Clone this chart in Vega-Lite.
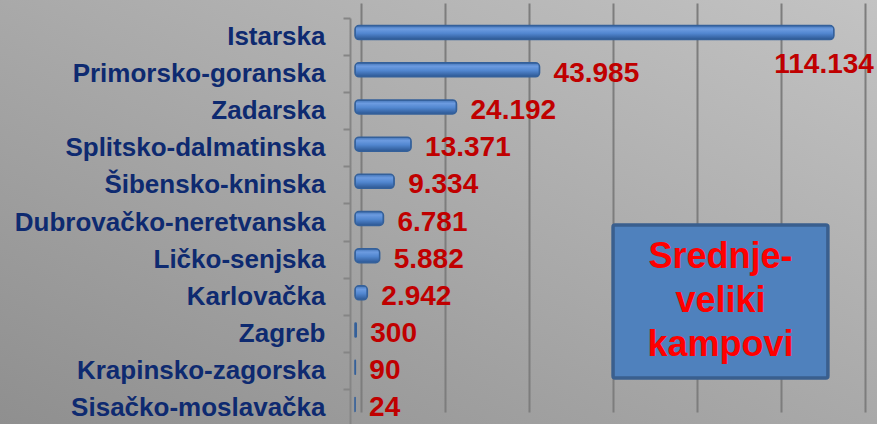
{
  "$schema": "https://vega.github.io/schema/vega-lite/v6.json",
  "width": 877,
  "height": 424,
  "autosize": "none",
  "padding": 0,
  "background": "#a6a6a6",
  "view": {
    "stroke": null,
    "fill": {
      "gradient": "linear",
      "x1": 0, "y1": 1, "x2": 1, "y2": 0,
      "stops": [
        {"offset": 0, "color": "#8f8f8f"},
        {"offset": 1, "color": "#c3c3c3"}
      ]
    }
  },
  "config": {
    "locale": {"number": {"decimal": ",", "thousands": ".", "grouping": [3], "currency": ["", " kn"]}},
    "font": "Liberation Sans"
  },
  "data": {
    "values": [
      {"zupanija": "Istarska", "kampovi": 114134},
      {"zupanija": "Primorsko-goranska", "kampovi": 43985},
      {"zupanija": "Zadarska", "kampovi": 24192},
      {"zupanija": "Splitsko-dalmatinska", "kampovi": 13371},
      {"zupanija": "Šibensko-kninska", "kampovi": 9334},
      {"zupanija": "Dubrovačko-neretvanska", "kampovi": 6781},
      {"zupanija": "Ličko-senjska", "kampovi": 5882},
      {"zupanija": "Karlovačka", "kampovi": 2942},
      {"zupanija": "Zagreb", "kampovi": 300},
      {"zupanija": "Krapinsko-zagorska", "kampovi": 90},
      {"zupanija": "Sisačko-moslavačka", "kampovi": 24}
    ]
  },
  "layer": [
    {
      "mark": {
        "type": "bar",
        "size": 14,
        "yOffset": -4,
        "cornerRadius": 4,
        "stroke": "#34609a",
        "strokeWidth": 1.5,
        "fill": {
          "gradient": "linear",
          "x1": 0, "y1": 0, "x2": 0, "y2": 1,
          "stops": [
            {"offset": 0, "color": "#4273b5"},
            {"offset": 0.25, "color": "#6c9be0"},
            {"offset": 0.55, "color": "#5287d0"},
            {"offset": 1, "color": "#2c5793"}
          ]
        }
      },
      "encoding": {
        "x": {
          "field": "kampovi",
          "type": "quantitative",
          "scale": {"domain": [-84600, 124400], "nice": false, "zero": false},
          "axis": {
            "orient": "bottom",
            "values": [0, 20000, 40000, 60000, 80000, 100000, 120000],
            "grid": true,
            "gridColor": "#7d7d7d",
            "gridWidth": 2,
            "labels": false,
            "ticks": false,
            "domain": false,
            "title": null,
            "translate": 6.5
          }
        },
        "y": {
          "field": "zupanija",
          "type": "nominal",
          "sort": null,
          "scale": {
            "domain": ["Istarska", "Primorsko-goranska", "Zadarska", "Splitsko-dalmatinska", "Šibensko-kninska", "Dubrovačko-neretvanska", "Ličko-senjska", "Karlovačka", "Zagreb", "Krapinsko-zagorska", "Sisačko-moslavačka"],
            "range": [18, 427],
            "paddingInner": 0,
            "paddingOuter": 0
          },
          "axis": {
            "title": null,
            "orient": "left",
            "offset": -350,
            "grid": false,
            "labelFont": "Liberation Sans",
            "labelFontSize": 26,
            "labelFontWeight": "bold",
            "labelColor": "#0e2a70",
            "labelPadding": 18,
            "labelLimit": 400,
            "tickSize": 7,
            "tickWidth": 2,
            "tickColor": "#858585",
            "bandPosition": 0,
            "domainColor": "#858585",
            "domainWidth": 2
          }
        }
      }
    },
    {
      "transform": [{"filter": "datum.zupanija != 'Istarska'"}],
      "mark": {
        "type": "text",
        "align": "left",
        "baseline": "middle",
        "dx": 14,
        "font": "Liberation Sans",
        "fontSize": 28,
        "fontWeight": "bold",
        "fill": "#c00000"
      },
      "encoding": {
        "x": {"field": "kampovi", "type": "quantitative"},
        "y": {"field": "zupanija", "type": "nominal", "sort": null},
        "text": {"field": "kampovi", "type": "quantitative", "format": ",d"}
      }
    },
    {
      "transform": [{"filter": "datum.zupanija == 'Istarska'"}],
      "mark": {
        "type": "text",
        "align": "right",
        "baseline": "middle",
        "dx": 40,
        "dy": 28,
        "font": "Liberation Sans",
        "fontSize": 28,
        "fontWeight": "bold",
        "fill": "#c00000"
      },
      "encoding": {
        "x": {"field": "kampovi", "type": "quantitative"},
        "y": {"field": "zupanija", "type": "nominal", "sort": null},
        "text": {"field": "kampovi", "type": "quantitative", "format": ",d"}
      }
    },
    {
      "data": {"values": [{"naslov": "Srednje-\nveliki\nkampovi"}]},
      "mark": {
        "type": "rect",
        "fill": "#4f81bd",
        "stroke": "#3a5f8e",
        "strokeWidth": 3.5,
        "cornerRadius": 2
      },
      "encoding": {
        "x": {"datum": 61500, "type": "quantitative"},
        "x2": {"datum": 112700},
        "y": {"datum": "Dubrovačko-neretvanska", "type": "nominal", "bandPosition": 0.57},
        "y2": {"datum": "Krapinsko-zagorska", "bandPosition": 0.68}
      }
    },
    {
      "data": {"values": [{"naslov": "Srednje-\nveliki\nkampovi"}]},
      "mark": {
        "type": "text",
        "align": "center",
        "baseline": "middle",
        "lineBreak": "\n",
        "lineHeight": 44,
        "font": "Liberation Sans",
        "fontSize": 36,
        "fontWeight": "bold",
        "fill": "#ff0000"
      },
      "encoding": {
        "x": {"datum": 87100, "type": "quantitative"},
        "y": {"datum": "Ličko-senjska", "type": "nominal", "bandPosition": 0.43},
        "text": {"field": "naslov", "type": "nominal"}
      }
    }
  ]
}
